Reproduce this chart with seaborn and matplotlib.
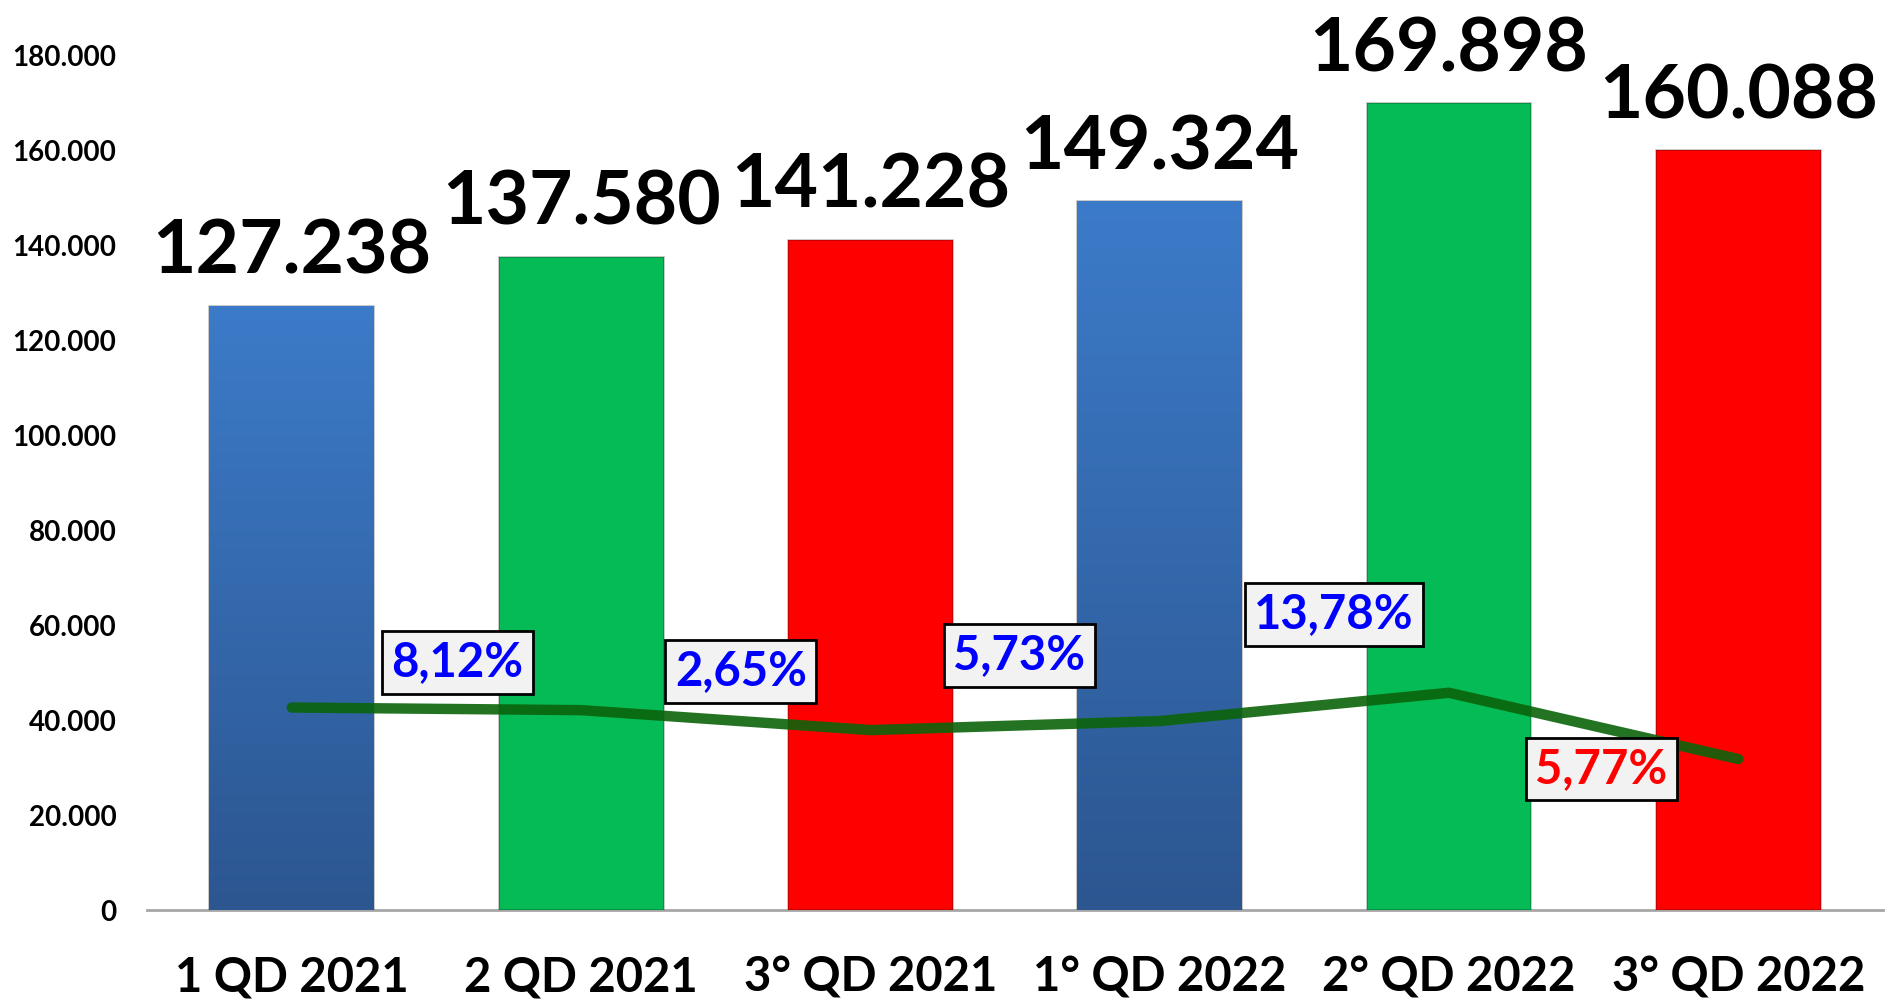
import numpy as np
import pandas as pd
import matplotlib
matplotlib.use('Agg')
import matplotlib.pyplot as plt
import seaborn as sns
from matplotlib.colors import LinearSegmentedColormap
from matplotlib.ticker import FuncFormatter, MultipleLocator

# --- data ---
categories = ['1 QD 2021', '2 QD 2021', '3° QD 2021', '1° QD 2022', '2° QD 2022', '3° QD 2022']
values = [127238, 137580, 141228, 149324, 169898, 160088]
trend = [42650, 42100, 37900, 39800, 45760, 31800]   # green line (secondary series)
pct_labels = ['8,12%', '2,65%', '5,73%', '13,78%', '5,77%']
pct_colors = ['#0000ff', '#0000ff', '#0000ff', '#0000ff', '#ff0000']

bar_colors = ['#3a78c4', '#05bb55', '#ff0000', '#3a78c4', '#05bb55', '#ff0000']
# where the percentage boxes sit (category position, y value)
pct_anchor = [(0.573, 52200), (1.552, 50300), (2.514, 53600), (3.602, 62300), (4.526, 29700)]


def thousands(v, _):
    return f"{v:,.0f}".replace(',', '.')


def main():
    sns.set_theme(style='white')
    plt.rcParams['font.family'] = ['Lato', 'DejaVu Sans']
    plt.rcParams['font.weight'] = 'bold'

    fig = plt.figure(figsize=(18.93, 10.01), dpi=100)
    ax = fig.add_axes([0.0777, 0.0909, 0.9170, 0.8537])

    df = pd.DataFrame({'period': categories, 'value': values})
    sns.barplot(data=df, x='period', y='value', hue='period', palette=bar_colors,
                saturation=1, width=0.57, legend=False, ax=ax, zorder=2)

    # bevel-ish look: darker edges, gradient on the blue bars
    blue_cmap = LinearSegmentedColormap.from_list('blue', ['#2c5690', '#3c7bc9'])
    grad = np.linspace(1, 0, 256).reshape(-1, 1)
    for i, patch in enumerate(ax.patches):
        patch.set_edgecolor((0, 0, 0, 0.25))
        patch.set_linewidth(1.2)
        if bar_colors[i] == '#3a78c4':
            x0, w, h = patch.get_x(), patch.get_width(), patch.get_height()
            im = ax.imshow(grad, extent=[x0, x0 + w, 0, h], cmap=blue_cmap,
                           aspect='auto', zorder=2.5, origin='upper')
            im.set_clip_path(patch)

    # green trend line
    sns.lineplot(x=np.arange(len(trend)), y=trend, sort=False, ax=ax, color='#0b640b',
                 alpha=0.9, linewidth=7.5, solid_capstyle='round', solid_joinstyle='round',
                 zorder=4)

    # value labels above the bars
    for i, v in enumerate(values):
        ax.annotate(thousands(v, None), (i, v), xytext=(0, 23), textcoords='offset points',
                    ha='center', va='baseline', fontsize=54, fontweight='bold',
                    color='black', zorder=7, annotation_clip=False)

    # percentage boxes
    for (px, py), lab, col in zip(pct_anchor, pct_labels, pct_colors):
        ax.text(px, py, lab, ha='center', va='center', fontsize=34, fontweight='bold',
                color=col, zorder=6,
                bbox=dict(boxstyle='square,pad=0.2', fc='#f2f2f2', ec='black', lw=2))

    ax.set_xlim(-0.5, len(categories) - 0.5)
    ax.set_ylim(0, 180000)
    ax.yaxis.set_major_locator(MultipleLocator(20000))
    ax.yaxis.set_major_formatter(FuncFormatter(thousands))
    ax.set_xlabel('')
    ax.set_ylabel('')

    for side in ['left', 'top', 'right']:
        ax.spines[side].set_visible(False)
    ax.spines['bottom'].set_color('#a6a6a6')
    ax.spines['bottom'].set_linewidth(2)
    ax.spines['bottom'].set_zorder(1)

    ax.tick_params(axis='x', length=0, pad=33, labelsize=34)
    ax.tick_params(axis='y', length=0, pad=22, labelsize=20)
    for lab in ax.get_xticklabels() + ax.get_yticklabels():
        lab.set_fontweight('bold')
        lab.set_color('black')

    fig.savefig('out.png', dpi=100)


if __name__ == "__main__":
    main()
